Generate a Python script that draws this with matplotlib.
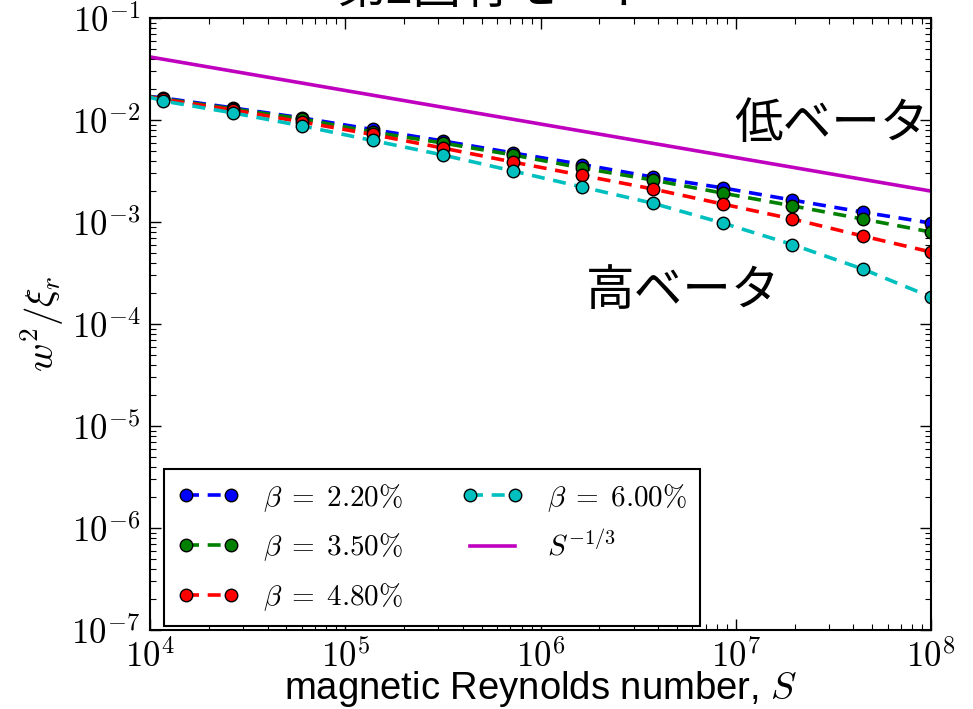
import matplotlib
matplotlib.use("Agg")
import matplotlib.pyplot as plt
from matplotlib.ticker import FuncFormatter
import numpy as np

# ---- data ----
S_points = [1.17e4, 2.67e4, 6.03e4, 1.38e5, 3.16e5, 7.24e5, 1.64e6, 3.75e6,
            8.57e6, 1.95e7, 4.47e7, 1.0e8]
S_line_start = 1.0e4

w_beta_220 = [0.01644, 0.01312, 0.01047, 0.00807, 0.00623, 0.00475, 0.00366,
              0.00276, 0.00216, 0.00164, 0.00125, 0.000977]
w_beta_350 = [0.0161, 0.01283, 0.01023, 0.00762, 0.00595, 0.00454, 0.00338,
              0.00258, 0.00192, 0.00144, 0.00107, 0.000797]
w_beta_480 = [0.0159, 0.01253, 0.00955, 0.00721, 0.00531, 0.00387, 0.00286,
              0.00211, 0.00150, 0.00107, 0.000729, 0.000508]
w_beta_600 = [0.01535, 0.01172, 0.00874, 0.00630, 0.00454, 0.00316, 0.00220,
              0.00153, 0.000977, 0.000601, 0.000346, 0.000184]
w_start = [0.0170, 0.0169, 0.0168, 0.0167]

labels = [r"$\beta\;=\;2.20\%$", r"$\beta\;=\;3.50\%$", r"$\beta\;=\;4.80\%$",
          r"$\beta\;=\;6.00\%$"]
colors = ["#0000ff", "#008000", "#ff0000", "#00bfbf"]

S_ref = [1.0e4, 1.0e8]
w_ref = [0.0415, 0.00201]
ref_label = r"$S^{-1/3}$"

title = "第2固有モード"
xlabel = r"magnetic Reynolds number, $S$"
ylabel = r"$w^2/\xi_r$"
note_low = "低ベータ"
note_high = "高ベータ"

# ---- style ----
plt.rcParams["mathtext.fontset"] = "cm"
plt.rcParams["font.family"] = ["Noto Sans CJK JP", "DejaVu Sans"]

fig = plt.figure(figsize=(9.73, 7.09), dpi=100)
ax = fig.add_axes([150 / 973, 1 - 630 / 709, (931 - 150) / 973, (630 - 18) / 709])

series = [w_beta_220, w_beta_350, w_beta_480, w_beta_600]
for w, w0, c, lab in zip(series, w_start, colors, labels):
    xs = [S_line_start] + S_points
    ys = [w0] + w
    ax.plot(xs, ys, "--", color=c, lw=2.6, marker="o", ms=9,
            mfc=c, mec="black", mew=1.0, markevery=list(range(1, len(xs))),
            label=lab, dashes=(3.6, 2.4))

ax.plot(S_ref, w_ref, "-", color="#bf00bf", lw=2.6, label=ref_label)

ax.set_xscale("log")
ax.set_yscale("log")
ax.set_xlim(1e4, 1e8)
ax.set_ylim(1e-7, 1e-1)

fmt = FuncFormatter(lambda v, p: r"$10^{%d}$" % int(round(np.log10(v))))
ax.xaxis.set_major_formatter(fmt)
ax.yaxis.set_major_formatter(fmt)

ax.tick_params(which="both", direction="in", top=True, right=True)
ax.tick_params(which="major", length=8, width=1.0, labelsize=25, pad=7)
ax.tick_params(which="minor", length=4, width=0.8)
for sp in ax.spines.values():
    sp.set_linewidth(1.5)

ax.set_xlabel(xlabel, fontsize=27.5, family=["Liberation Sans", "DejaVu Sans"],
              labelpad=-4)
ax.set_ylabel(ylabel, fontsize=28, labelpad=4)

ax.text(0.997, 0.826, note_low, transform=ax.transAxes, fontsize=35,
        ha="right", va="center")
ax.text(0.683, 0.553, note_high, transform=ax.transAxes, fontsize=35,
        ha="center", va="center")

fig.text(0.51, 1 - 14 / 709, title, fontsize=35, ha="center", va="bottom")

leg = ax.legend(loc="lower left", ncol=2, fontsize=21, numpoints=2,
                handlelength=2.14, labelspacing=0.62, columnspacing=2.0,
                borderpad=0.45, handletextpad=0.8, fancybox=False,
                bbox_to_anchor=(0.018, 0.006), borderaxespad=0.0,
                framealpha=1)
leg.get_frame().set_edgecolor("black")
leg.get_frame().set_linewidth(1.5)

fig.savefig("out.png", dpi=100)
